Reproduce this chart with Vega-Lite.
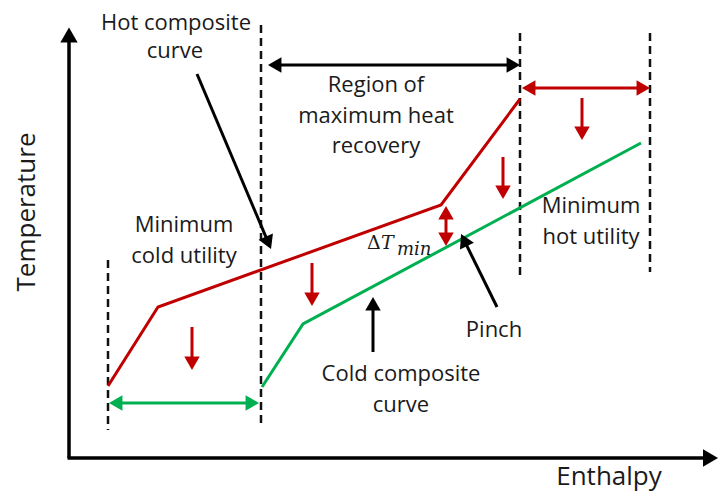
{
  "$schema": "https://vega.github.io/schema/vega-lite/v6.json",
  "width": 718,
  "height": 492,
  "padding": 0,
  "autosize": {"type": "none"},
  "background": "white",
  "config": {"view": {"stroke": null}},
  "datasets": {
    "axes": [
      {"x": 69, "y": 458, "x2": 69, "y2": 35},
      {"x": 67.5, "y": 458, "x2": 710, "y2": 458}
    ],
    "dashes": [
      {"x": 108, "y": 260, "x2": 108, "y2": 430},
      {"x": 261, "y": 25, "x2": 261, "y2": 425},
      {"x": 520, "y": 33, "x2": 520, "y2": 280},
      {"x": 650, "y": 33, "x2": 650, "y2": 272}
    ],
    "curves": [
      {"ink": "red", "order": 1, "x": 108, "y": 386},
      {"ink": "red", "order": 2, "x": 158, "y": 307},
      {"ink": "red", "order": 3, "x": 441, "y": 205},
      {"ink": "red", "order": 4, "x": 520, "y": 99},
      {"ink": "green", "order": 1, "x": 262, "y": 387},
      {"ink": "green", "order": 2, "x": 303, "y": 324},
      {"ink": "green", "order": 3, "x": 641, "y": 143}
    ],
    "shafts": [
      {"ink": "black", "x": 275, "y": 65, "x2": 513, "y2": 65},
      {"ink": "red", "x": 529, "y": 88, "x2": 643, "y2": 88},
      {"ink": "green", "x": 116, "y": 403, "x2": 252, "y2": 403},
      {"ink": "red", "x": 582, "y": 98, "x2": 582, "y2": 134},
      {"ink": "red", "x": 503, "y": 157, "x2": 503, "y2": 193},
      {"ink": "red", "x": 312, "y": 263, "x2": 312, "y2": 300},
      {"ink": "red", "x": 192, "y": 327, "x2": 192, "y2": 364},
      {"ink": "red", "x": 446, "y": 212, "x2": 446, "y2": 240},
      {"ink": "black", "x": 197, "y": 74, "x2": 268.4, "y2": 242.8},
      {"ink": "black", "x": 373, "y": 352, "x2": 373, "y2": 304},
      {"ink": "black", "x": 497, "y": 307, "x2": 464, "y2": 240}
    ],
    "heads": [
      {"ink": "black", "x": 274.7, "y": 65, "angle": 270},
      {"ink": "black", "x": 513.3, "y": 65, "angle": 90},
      {"ink": "red", "x": 528.7, "y": 88, "angle": 270},
      {"ink": "red", "x": 643.3, "y": 88, "angle": 90},
      {"ink": "green", "x": 115.7, "y": 403, "angle": 270},
      {"ink": "green", "x": 252.3, "y": 403, "angle": 90},
      {"ink": "red", "x": 582, "y": 133.3, "angle": 180},
      {"ink": "red", "x": 503, "y": 192.3, "angle": 180},
      {"ink": "red", "x": 312, "y": 299.3, "angle": 180},
      {"ink": "red", "x": 192, "y": 363.3, "angle": 180},
      {"ink": "red", "x": 446, "y": 212.7, "angle": 0},
      {"ink": "red", "x": 446, "y": 239.3, "angle": 180},
      {"ink": "black", "x": 268.4, "y": 242.8, "angle": 157},
      {"ink": "black", "x": 373, "y": 303.7, "angle": 0},
      {"ink": "black", "x": 464, "y": 240, "angle": 334}
    ],
    "axisHeads": [
      {"x": 69, "y": 35, "angle": 0},
      {"x": 710.5, "y": 458, "angle": 90}
    ],
    "labels": [
      {"x": 176, "y": 30, "text": "Hot composite"},
      {"x": 175, "y": 58, "text": "curve"},
      {"x": 376, "y": 92, "text": "Region of"},
      {"x": 376, "y": 123, "text": "maximum heat"},
      {"x": 376, "y": 153, "text": "recovery"},
      {"x": 184, "y": 232, "text": "Minimum"},
      {"x": 184, "y": 263, "text": "cold utility"},
      {"x": 591, "y": 213, "text": "Minimum"},
      {"x": 591, "y": 244, "text": "hot utility"},
      {"x": 494, "y": 337, "text": "Pinch"},
      {"x": 401, "y": 381, "text": "Cold composite"},
      {"x": 401, "y": 412, "text": "curve"}
    ],
    "xTitle": [{"x": 609, "y": 485, "text": "Enthalpy"}],
    "yTitle": [{"x": 35, "y": 212, "text": "Temperature"}],
    "delta": [{"x": 367, "y": 249, "text": "Δ"}],
    "tee": [{"x": 381, "y": 249, "text": "T"}],
    "sub": [{"x": 397, "y": 255, "text": "min"}]
  },
  "encoding": {
    "x": {"field": "x", "type": "quantitative", "scale": {"domain": [0, 718], "nice": false, "zero": false}, "axis": null},
    "y": {"field": "y", "type": "quantitative", "scale": {"domain": [0, 492], "reverse": true, "nice": false, "zero": false}, "axis": null}
  },
  "layer": [
    {
      "data": {"name": "dashes"},
      "mark": {"type": "rule", "color": "#111111", "strokeWidth": 2.5, "strokeDash": [8, 5]},
      "encoding": {"x2": {"field": "x2"}, "y2": {"field": "y2"}}
    },
    {
      "data": {"name": "axes"},
      "mark": {"type": "rule", "color": "#000000", "strokeWidth": 3.5},
      "encoding": {"x2": {"field": "x2"}, "y2": {"field": "y2"}}
    },
    {
      "data": {"name": "axisHeads"},
      "mark": {"type": "point", "shape": "triangle-up", "filled": true, "opacity": 1, "size": 300, "color": "#000000", "strokeWidth": 0},
      "encoding": {"angle": {"field": "angle", "type": "quantitative", "scale": null}}
    },
    {
      "data": {"name": "curves"},
      "mark": {"type": "line", "strokeWidth": 3, "strokeJoin": "miter"},
      "encoding": {
        "order": {"field": "order"},
        "color": {"field": "ink", "type": "nominal", "scale": {"domain": ["black", "red", "green"], "range": ["#000000", "#C00000", "#00B050"]}, "legend": null}
      }
    },
    {
      "data": {"name": "shafts"},
      "mark": {"type": "rule", "strokeWidth": 3},
      "encoding": {
        "x2": {"field": "x2"}, "y2": {"field": "y2"},
        "color": {"field": "ink", "type": "nominal", "scale": {"domain": ["black", "red", "green"], "range": ["#000000", "#C00000", "#00B050"]}, "legend": null}
      }
    },
    {
      "data": {"name": "heads"},
      "mark": {"type": "point", "shape": "triangle-up", "filled": true, "opacity": 1, "size": 240, "strokeWidth": 0},
      "encoding": {
        "angle": {"field": "angle", "type": "quantitative", "scale": null},
        "color": {"field": "ink", "type": "nominal", "scale": {"domain": ["black", "red", "green"], "range": ["#000000", "#C00000", "#00B050"]}, "legend": null}
      }
    },
    {
      "data": {"name": "labels"},
      "mark": {"type": "text", "font": "Open Sans", "fontSize": 22, "align": "center", "baseline": "alphabetic", "color": "#1a1a1a"},
      "encoding": {"text": {"field": "text"}}
    },
    {
      "data": {"name": "xTitle"},
      "mark": {"type": "text", "font": "Open Sans", "fontSize": 26, "align": "center", "baseline": "alphabetic", "color": "#1a1a1a"},
      "encoding": {"text": {"field": "text"}}
    },
    {
      "data": {"name": "yTitle"},
      "mark": {"type": "text", "font": "Open Sans", "fontSize": 26, "align": "center", "baseline": "alphabetic", "angle": 270, "color": "#1a1a1a"},
      "encoding": {"text": {"field": "text"}}
    },
    {
      "data": {"name": "delta"},
      "mark": {"type": "text", "font": "DejaVu Serif", "fontSize": 19, "align": "left", "baseline": "alphabetic", "color": "#1a1a1a"},
      "encoding": {"text": {"field": "text"}}
    },
    {
      "data": {"name": "tee"},
      "mark": {"type": "text", "font": "DejaVu Serif", "fontStyle": "italic", "fontSize": 19, "align": "left", "baseline": "alphabetic", "color": "#1a1a1a"},
      "encoding": {"text": {"field": "text"}}
    },
    {
      "data": {"name": "sub"},
      "mark": {"type": "text", "font": "DejaVu Serif", "fontStyle": "italic", "fontSize": 18, "align": "left", "baseline": "alphabetic", "color": "#1a1a1a"},
      "encoding": {"text": {"field": "text"}}
    }
  ]
}
